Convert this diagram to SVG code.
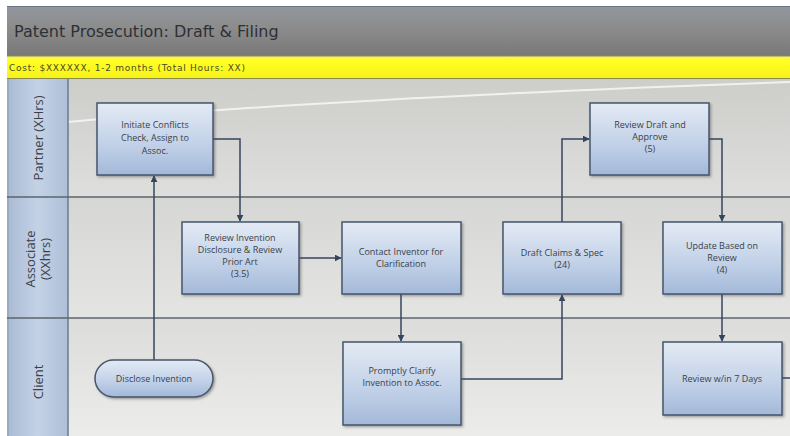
<svg xmlns="http://www.w3.org/2000/svg" width="790" height="436" viewBox="0 0 790 436">
<defs>
<linearGradient id="gTitle" x1="0" y1="0" x2="0" y2="1">
<stop offset="0" stop-color="#9296a0"/><stop offset="0.4" stop-color="#8c8d8c"/><stop offset="1" stop-color="#777877"/>
</linearGradient>
<linearGradient id="gYel" x1="0" y1="0" x2="0" y2="1">
<stop offset="0" stop-color="#f4f070"/><stop offset="0.2" stop-color="#ffff22"/><stop offset="1" stop-color="#f6f21a"/>
</linearGradient>
<linearGradient id="gLane" x1="0" y1="0" x2="0" y2="1">
<stop offset="0" stop-color="#cdcdca"/><stop offset="1" stop-color="#dedfdd"/>
</linearGradient>
<linearGradient id="gLane2" x1="0" y1="0" x2="0" y2="1">
<stop offset="0" stop-color="#d6d7d5"/><stop offset="1" stop-color="#e4e5e3"/>
</linearGradient>
<linearGradient id="gLane3" x1="0" y1="0" x2="0" y2="1">
<stop offset="0" stop-color="#dcdddb"/><stop offset="1" stop-color="#ececeb"/>
</linearGradient>
<linearGradient id="gHead" x1="0" y1="0" x2="1" y2="0">
<stop offset="0" stop-color="#a9bad3"/><stop offset="0.5" stop-color="#c4d2e6"/><stop offset="1" stop-color="#aebfd8"/>
</linearGradient>
<linearGradient id="gNode" x1="0" y1="0" x2="0" y2="1">
<stop offset="0" stop-color="#e3eaf4"/><stop offset="0.55" stop-color="#c3d2e8"/><stop offset="1" stop-color="#a3b9d9"/>
</linearGradient>
<marker id="arr" viewBox="0 0 10 10" refX="9" refY="5" markerWidth="7" markerHeight="7" markerUnits="userSpaceOnUse" orient="auto">
<path d="M0,0 L10,5 L0,10 z" fill="#34455e"/>
</marker>
<filter id="sh" x="-10%" y="-10%" width="130%" height="130%">
<feDropShadow dx="1.5" dy="1.5" stdDeviation="1" flood-color="#444" flood-opacity="0.45"/>
</filter>
</defs>
<style>
.node{fill:url(#gNode);stroke:#46556c;stroke-width:1.5;filter:url(#sh)}
.nt{font-family:"Open Sans","Liberation Sans",sans-serif;font-size:9px;fill:#3a3f48;text-anchor:middle}
.lt{font-family:"Open Sans","Liberation Sans",sans-serif;font-size:13px;fill:#3a3f48;text-anchor:middle}
.conn{fill:none;stroke:#34455e;stroke-width:1.5;marker-end:url(#arr)}
.lane{stroke:#5c646e;stroke-width:1.5}
</style>
<rect x="0" y="0" width="790" height="436" fill="#ffffff"/>
<rect x="7" y="6" width="783" height="50" fill="url(#gTitle)"/>
<line x1="7" y1="6.5" x2="790" y2="6.5" stroke="#6d7380" stroke-width="1"/>
<text x="14" y="37" font-family="'DejaVu Sans','Liberation Sans',sans-serif" font-size="16" fill="#2e3036">Patent Prosecution: Draft &amp; Filing</text>
<rect x="7" y="56" width="783" height="23" fill="url(#gYel)"/>
<line x1="7" y1="56" x2="790" y2="56" stroke="#8a8a4a" stroke-width="1"/>
<line x1="7" y1="78.5" x2="790" y2="78.5" stroke="#8a8a4a" stroke-width="1"/>
<text x="9" y="70.5" font-family="'DejaVu Sans','Liberation Sans',sans-serif" font-size="9" fill="#4a4a20" textLength="236" lengthAdjust="spacing">Cost: $XXXXXX, 1-2 months (Total Hours: XX)</text>
<g id="lanes">
<rect x="7" y="79" width="783" height="118" fill="url(#gLane)"/>
<rect x="7" y="197" width="783" height="121" fill="url(#gLane2)"/>
<rect x="7" y="318" width="783" height="118" fill="url(#gLane3)"/>
<path d="M68,122 C200,110 420,95 790,82" fill="none" stroke="#ffffff" stroke-width="2" opacity="0.7"/>
<rect x="7" y="79" width="61" height="357" fill="url(#gHead)"/>
<line x1="68" y1="79" x2="68" y2="436" stroke="#6a7a92" stroke-width="1.5"/>
<line x1="8" y1="79" x2="8" y2="436" stroke="#8a9ab2" stroke-width="1"/>
<line class="lane" x1="7" y1="197" x2="790" y2="197"/>
<line class="lane" x1="7" y1="318" x2="790" y2="318"/>
<text class="lt" transform="translate(43,138) rotate(-90)">Partner (XHrs)</text>
<text class="lt" transform="translate(35,259) rotate(-90)">Associate</text>
<text class="lt" transform="translate(50,259) rotate(-90)">(XXhrs)</text>
<text class="lt" transform="translate(43,382) rotate(-90)">Client</text>
</g>
<g id="connectors">
<path class="conn" d="M154,360 V176"/>
<path class="conn" d="M213,139 H240 V221"/>
<path class="conn" d="M299,258 H341"/>
<path class="conn" d="M401,294 V341"/>
<path class="conn" d="M461,379 H562 V295"/>
<path class="conn" d="M562,222 V139 H589"/>
<path class="conn" d="M709,139 H722 V221"/>
<path class="conn" d="M722,294 V341"/>
<path d="M782,378 H790" fill="none" stroke="#34455e" stroke-width="1.5"/>
</g>
<g id="n-initiate">
<rect class="node" x="97" y="103" width="116" height="72"/>
<text class="nt" x="155" y="128">Initiate Conflicts</text>
<text class="nt" x="155" y="141">Check, Assign to</text>
<text class="nt" x="155" y="154">Assoc.</text>
</g>
<g id="n-review-invention">
<rect class="node" x="182" y="222" width="117" height="72"/>
<text class="nt" x="240" y="241">Review Invention</text>
<text class="nt" x="240" y="253">Disclosure &amp; Review</text>
<text class="nt" x="240" y="265">Prior Art</text>
<text class="nt" x="240" y="277">(3.5)</text>
</g>
<g id="n-contact">
<rect class="node" x="342" y="222" width="119" height="72"/>
<text class="nt" x="401" y="255">Contact Inventor for</text>
<text class="nt" x="401" y="267">Clarification</text>
</g>
<g id="n-draft">
<rect class="node" x="503" y="222" width="118" height="72"/>
<text class="nt" x="562" y="256">Draft Claims &amp; Spec</text>
<text class="nt" x="562" y="268">(24)</text>
</g>
<g id="n-review-draft">
<rect class="node" x="590" y="103" width="119" height="72"/>
<text class="nt" x="650" y="128">Review Draft and</text>
<text class="nt" x="650" y="140">Approve</text>
<text class="nt" x="650" y="152">(5)</text>
</g>
<g id="n-update">
<rect class="node" x="663" y="222" width="119" height="72"/>
<text class="nt" x="722" y="249">Update Based on</text>
<text class="nt" x="722" y="261">Review</text>
<text class="nt" x="722" y="273">(4)</text>
</g>
<g id="n-disclose">
<rect class="node" x="95" y="360" width="118" height="37" rx="18.5"/>
<text class="nt" x="154" y="382">Disclose Invention</text>
</g>
<g id="n-clarify">
<rect class="node" x="343" y="342" width="118" height="83"/>
<text class="nt" x="402" y="374">Promptly Clarify</text>
<text class="nt" x="402" y="386">Invention to Assoc.</text>
</g>
<g id="n-review-7">
<rect class="node" x="663" y="342" width="119" height="73"/>
<text class="nt" x="722" y="382">Review w/in 7 Days</text>
</g>
</svg>
